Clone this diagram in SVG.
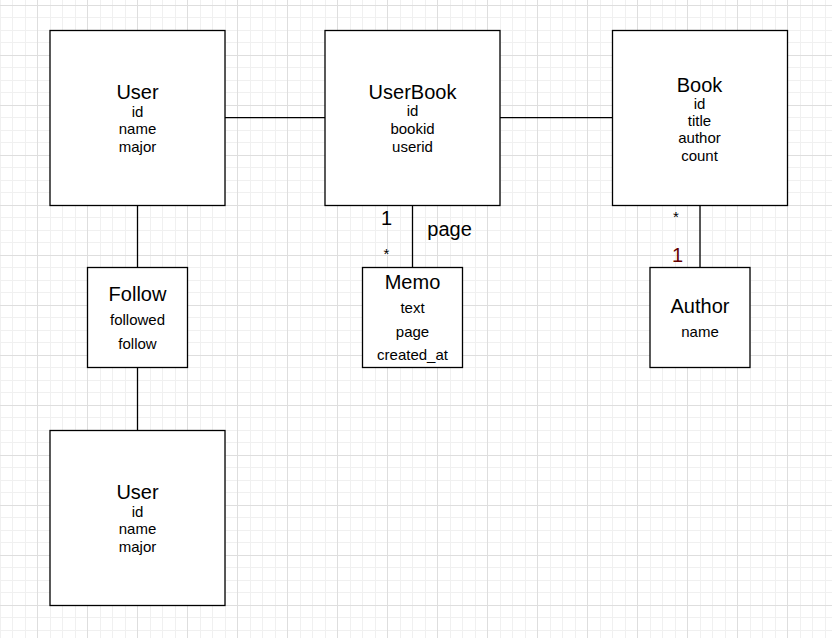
<svg xmlns="http://www.w3.org/2000/svg" width="832" height="638" viewBox="0 0 832 638">
  <defs>
    <pattern id="grid" patternUnits="userSpaceOnUse" x="37" y="5" width="50" height="50">
      <g shape-rendering="crispEdges" fill="none">
        <path d="M13.5 0V50M25.5 0V50M38.5 0V50" stroke="#f0f0f0" stroke-width="1"/>
        <path d="M0 12.5H50M0 25.5H50M0 37.5H50" stroke="#f0f0f0" stroke-width="1"/>
        <path d="M0.5 0V50M0 0.5H50" stroke="#dedede" stroke-width="1"/>
      </g>
    </pattern>
    <style>
      .box { fill: #ffffff; stroke: #000000; stroke-width: 1.3; }
      .edge { fill: none; stroke: #000000; stroke-width: 1.3; }
      text { font-family: "Liberation Sans", Arial, sans-serif; fill: #000000; text-anchor: middle; }
      .title { font-size: 20px; }
      .attr { font-size: 15px; }
      .lbl { font-size: 20px; }
      .star { font-size: 15px; }
    </style>
  </defs>
  <rect x="0" y="0" width="832" height="638" fill="#ffffff"/>
  <rect x="0" y="0" width="832" height="638" fill="url(#grid)"/>

  <g id="connectors">
    <path class="edge" d="M225 117.7H325"/>
    <path class="edge" d="M500 117.6H612.5"/>
    <path class="edge" d="M137.5 205.5V267.5"/>
    <path class="edge" d="M137.5 367.5V430.5"/>
    <path class="edge" d="M412.5 205.5V267.5"/>
    <path class="edge" d="M700 205.5V267.5"/>
    <text class="lbl" x="386.5" y="225">1</text>
    <text class="star" x="386.5" y="258.6">*</text>
    <text class="lbl" x="427.3" y="236" style="text-anchor:start">page</text>
    <text class="star" x="676" y="222">*</text>
    <text class="lbl" x="677.5" y="262" style="fill:#660000">1</text>
  </g>

  <g id="user-top">
    <rect class="box" x="50" y="30.5" width="175" height="175"/>
    <text class="title" x="137.5" y="99.3">User</text>
    <text class="attr" x="137.5" y="116.7">id</text>
    <text class="attr" x="137.5" y="134.3">name</text>
    <text class="attr" x="137.5" y="151.7">major</text>
  </g>

  <g id="userbook">
    <rect class="box" x="325" y="30.5" width="175" height="175"/>
    <text class="title" x="412.5" y="98.8">UserBook</text>
    <text class="attr" x="412.5" y="116.3">id</text>
    <text class="attr" x="412.5" y="134.3">bookid</text>
    <text class="attr" x="412.5" y="151.7">userid</text>
  </g>

  <g id="book">
    <rect class="box" x="612.5" y="30.5" width="175" height="175"/>
    <text class="title" x="699.5" y="91.5">Book</text>
    <text class="attr" x="699.5" y="109">id</text>
    <text class="attr" x="699.5" y="126">title</text>
    <text class="attr" x="699.5" y="143.3">author</text>
    <text class="attr" x="699.5" y="160.5">count</text>
  </g>

  <g id="follow">
    <rect class="box" x="87.5" y="267.5" width="100" height="100"/>
    <text class="title" x="137.5" y="300.7">Follow</text>
    <text class="attr" x="137.5" y="325">followed</text>
    <text class="attr" x="137.5" y="349">follow</text>
  </g>

  <g id="memo">
    <rect class="box" x="362.5" y="267.5" width="100" height="100"/>
    <text class="title" x="412.5" y="289.3">Memo</text>
    <text class="attr" x="412.5" y="313.3">text</text>
    <text class="attr" x="412.5" y="336.7">page</text>
    <text class="attr" x="412.5" y="360">created_at</text>
  </g>

  <g id="author">
    <rect class="box" x="650" y="267.5" width="100" height="100"/>
    <text class="title" x="700" y="313.3">Author</text>
    <text class="attr" x="700" y="336.7">name</text>
  </g>

  <g id="user-bottom">
    <rect class="box" x="50" y="430.5" width="175" height="175"/>
    <text class="title" x="137.5" y="499">User</text>
    <text class="attr" x="137.5" y="516.5">id</text>
    <text class="attr" x="137.5" y="534">name</text>
    <text class="attr" x="137.5" y="551.5">major</text>
  </g>
</svg>
